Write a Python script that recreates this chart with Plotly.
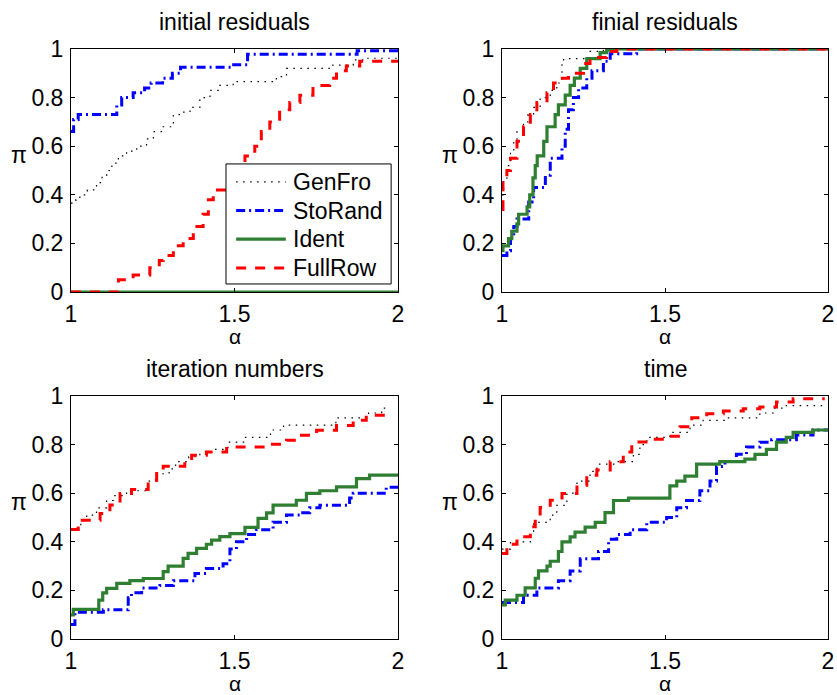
import plotly.graph_objects as go

# ---- data: performance profiles (alpha breakpoints, fraction of problems) ----
methods = ["GenFro", "StoRand", "Ident", "FullRow"]
panel_titles = ["initial residuals", "finial residuals", "iteration numbers", "time"]

# initial residuals
ir_genfro_a = [1.0, 1.015, 1.027, 1.05, 1.078, 1.095, 1.109, 1.125, 1.145, 1.17, 1.201, 1.231, 1.252, 1.282,
               1.313, 1.34, 1.364, 1.394, 1.425, 1.455, 1.496, 1.628, 1.659, 1.801, 1.863, 1.903, 2.0]
ir_genfro_p = [0.366, 0.38, 0.40, 0.42, 0.45, 0.48, 0.50, 0.53, 0.56, 0.58, 0.60, 0.63, 0.66, 0.68,
               0.73, 0.74, 0.76, 0.80, 0.83, 0.85, 0.866, 0.886, 0.92, 0.934, 0.955, 0.962, 0.962]
ir_storand_a = [1.0, 1.008, 1.022, 1.14, 1.155, 1.19, 1.225, 1.245, 1.28, 1.31, 1.335, 1.49, 1.54, 1.875, 2.0]
ir_storand_p = [0.66, 0.71, 0.73, 0.77, 0.80, 0.82, 0.84, 0.86, 0.88, 0.90, 0.925, 0.935, 0.978, 0.993, 0.993]
ir_ident_a = [1.0, 2.0]
ir_ident_p = [0.0, 0.0]
ir_fullrow_a = [1.0, 1.145, 1.19, 1.241, 1.27, 1.282, 1.313, 1.343, 1.374, 1.404, 1.42, 1.435, 1.486, 1.506,
                1.532, 1.562, 1.582, 1.608, 1.638, 1.669, 1.70, 1.74, 1.791, 1.812, 1.842, 1.883, 2.0]
ir_fullrow_p = [0.0, 0.05, 0.07, 0.10, 0.13, 0.15, 0.19, 0.22, 0.27, 0.32, 0.38, 0.42, 0.47, 0.52,
                0.56, 0.60, 0.66, 0.70, 0.75, 0.78, 0.81, 0.85, 0.88, 0.91, 0.93, 0.95, 0.95]

# final residuals
fr_genfro_a = [1.0, 1.005, 1.015, 1.026, 1.036, 1.046, 1.066, 1.08, 1.097, 1.117, 1.148, 1.168, 1.184,
               1.189, 1.270, 1.311, 2.0]
fr_genfro_p = [0.40, 0.46, 0.52, 0.58, 0.62, 0.66, 0.70, 0.73, 0.76, 0.80, 0.83, 0.86, 0.95,
               0.96, 0.99, 1.0, 1.0]
fr_storand_a = [1.0, 1.015, 1.026, 1.036, 1.046, 1.082, 1.097, 1.133, 1.148, 1.184, 1.194, 1.204, 1.219,
                1.235, 1.260, 1.276, 1.311, 1.332, 1.413, 2.0]
fr_storand_p = [0.15, 0.17, 0.22, 0.27, 0.30, 0.37, 0.43, 0.48, 0.55, 0.60, 0.67, 0.75, 0.80,
                0.84, 0.88, 0.91, 0.95, 0.98, 1.0, 1.0]
fr_ident_a = [1.0, 1.003, 1.020, 1.03, 1.046, 1.051, 1.077, 1.085, 1.095, 1.102, 1.108, 1.128, 1.138,
              1.163, 1.173, 1.194, 1.209, 1.222, 1.24, 1.260, 1.301, 1.321, 1.342, 2.0]
fr_ident_p = [0.17, 0.19, 0.22, 0.25, 0.28, 0.32, 0.35, 0.40, 0.47, 0.52, 0.56, 0.62, 0.68,
              0.73, 0.77, 0.81, 0.85, 0.88, 0.92, 0.96, 0.985, 0.995, 1.0, 1.0]
fr_fullrow_a = [1.0, 1.003, 1.015, 1.026, 1.046, 1.066, 1.087, 1.107, 1.138, 1.158, 1.173, 1.204, 1.25,
                1.270, 1.321, 1.352, 2.0]
fr_fullrow_p = [0.34, 0.45, 0.50, 0.55, 0.62, 0.68, 0.73, 0.78, 0.82, 0.86, 0.88, 0.90, 0.94,
                0.965, 0.99, 1.0, 1.0]

# iteration numbers
it_genfro_a = [1.0, 1.03, 1.048, 1.078, 1.109, 1.13, 1.17, 1.236, 1.262, 1.30, 1.32, 1.36, 1.394, 1.43,
               1.48, 1.53, 1.61, 1.65, 1.81, 1.91, 1.95, 1.975]
it_genfro_p = [0.451, 0.49, 0.51, 0.54, 0.57, 0.59, 0.61, 0.65, 0.68, 0.70, 0.73, 0.75, 0.76, 0.78,
               0.81, 0.83, 0.86, 0.88, 0.91, 0.93, 0.95, 0.95]
it_storand_a = [1.0, 1.012, 1.099, 1.175, 1.185, 1.216, 1.272, 1.313, 1.379, 1.414, 1.465, 1.486, 1.506,
                1.537, 1.567, 1.618, 1.659, 1.70, 1.73, 1.761, 1.852, 1.863, 1.964, 2.0]
it_storand_p = [0.06, 0.11, 0.12, 0.17, 0.19, 0.21, 0.22, 0.24, 0.27, 0.29, 0.31, 0.37, 0.40,
                0.43, 0.45, 0.48, 0.51, 0.52, 0.54, 0.55, 0.58, 0.60, 0.625, 0.625]
it_ident_a = [1.0, 1.007, 1.085, 1.097, 1.109, 1.14, 1.18, 1.221, 1.282, 1.297, 1.343, 1.358, 1.384, 1.414,
              1.43, 1.455, 1.486, 1.532, 1.572, 1.598, 1.618, 1.689, 1.72, 1.761, 1.812, 1.873, 1.913, 2.0]
it_ident_p = [0.099, 0.122, 0.16, 0.19, 0.208, 0.229, 0.24, 0.249, 0.277, 0.30, 0.332, 0.352, 0.373, 0.39,
              0.407, 0.421, 0.434, 0.459, 0.496, 0.519, 0.551, 0.571, 0.599, 0.61, 0.626, 0.66, 0.674, 0.674]
it_fullrow_a = [1.0, 1.022, 1.089, 1.119, 1.150, 1.185, 1.236, 1.262, 1.282, 1.348, 1.369, 1.414, 1.476,
                1.608, 1.659, 1.70, 1.751, 1.812, 1.863, 1.903, 1.975]
it_fullrow_p = [0.451, 0.489, 0.516, 0.551, 0.599, 0.615, 0.653, 0.688, 0.711, 0.736, 0.756, 0.770, 0.790,
                0.801, 0.818, 0.838, 0.859, 0.879, 0.90, 0.921, 0.921]

# time
tm_genfro_a = [1.0, 1.026, 1.087, 1.097, 1.148, 1.168, 1.199, 1.230, 1.270, 1.291, 1.352, 1.403, 1.423,
               1.444, 1.515, 1.577, 1.617, 1.689, 1.791, 1.832, 1.872, 1.985]
tm_genfro_p = [0.37, 0.40, 0.43, 0.48, 0.51, 0.55, 0.60, 0.65, 0.69, 0.72, 0.73, 0.76, 0.80,
               0.83, 0.85, 0.88, 0.90, 0.91, 0.93, 0.95, 0.96, 0.96]
tm_storand_a = [1.0, 1.066, 1.107, 1.173, 1.209, 1.240, 1.296, 1.327, 1.352, 1.393, 1.444, 1.505, 1.536,
                1.566, 1.607, 1.638, 1.658, 1.684, 1.719, 1.75, 1.791, 1.827, 1.903, 1.954, 2.0]
tm_storand_p = [0.15, 0.18, 0.21, 0.24, 0.28, 0.33, 0.36, 0.41, 0.43, 0.45, 0.48, 0.50, 0.54,
                0.57, 0.61, 0.65, 0.71, 0.73, 0.76, 0.79, 0.81, 0.82, 0.84, 0.86, 0.86]
tm_ident_a = [1.0, 1.010, 1.046, 1.071, 1.102, 1.112, 1.138, 1.148, 1.173, 1.184, 1.209, 1.224, 1.255,
              1.286, 1.316, 1.342, 1.388, 1.515, 1.536, 1.561, 1.597, 1.668, 1.745, 1.776, 1.811, 1.842,
              1.872, 1.893, 1.954, 2.0]
tm_ident_p = [0.14, 0.16, 0.18, 0.21, 0.25, 0.28, 0.30, 0.32, 0.36, 0.40, 0.42, 0.44, 0.46,
              0.48, 0.52, 0.57, 0.58, 0.63, 0.65, 0.67, 0.72, 0.73, 0.74, 0.76, 0.78, 0.81,
              0.83, 0.85, 0.86, 0.86]
tm_fullrow_a = [1.0, 1.015, 1.046, 1.087, 1.102, 1.117, 1.148, 1.184, 1.230, 1.260, 1.291, 1.332, 1.372,
                1.398, 1.464, 1.505, 1.546, 1.582, 1.628, 1.679, 1.740, 1.791, 1.842, 1.893, 1.99]
tm_fullrow_p = [0.352, 0.39, 0.421, 0.462, 0.503, 0.541, 0.571, 0.599, 0.633, 0.674, 0.695, 0.729, 0.77,
                0.811, 0.822, 0.834, 0.873, 0.91, 0.927, 0.938, 0.948, 0.955, 0.975, 0.989, 0.989]

panels = [
    [(ir_genfro_a, ir_genfro_p), (ir_storand_a, ir_storand_p), (ir_ident_a, ir_ident_p), (ir_fullrow_a, ir_fullrow_p)],
    [(fr_genfro_a, fr_genfro_p), (fr_storand_a, fr_storand_p), (fr_ident_a, fr_ident_p), (fr_fullrow_a, fr_fullrow_p)],
    [(it_genfro_a, it_genfro_p), (it_storand_a, it_storand_p), (it_ident_a, it_ident_p), (it_fullrow_a, it_fullrow_p)],
    [(tm_genfro_a, tm_genfro_p), (tm_storand_a, tm_storand_p), (tm_ident_a, tm_ident_p), (tm_fullrow_a, tm_fullrow_p)],
]

# ---- styles ----
FONT = "Liberation Sans, Arial, Helvetica, sans-serif"
FS = 23
FS_ALPHA = 21
line_styles = {
    "GenFro": dict(color="black", width=1.2, dash="1.5px,5.5px"),
    "StoRand": dict(color="#0000ff", width=3, dash="9px,4px,2px,4px"),
    "Ident": dict(color="#2f7f32", width=3.2, dash="solid"),
    "FullRow": dict(color="#ff0000", width=3, dash="10px,9px"),
}

W, H = 837, 695
col_px = [(71, 398), (502, 828)]
row_px = [(49, 292), (396, 639)]


def px_x(p):
    return p / W


def px_y(p):
    return 1 - p / H


fig = go.Figure()
layout = dict(
    width=W, height=H, margin=dict(l=0, r=0, t=0, b=0, autoexpand=False),
    paper_bgcolor="white", plot_bgcolor="white",
    font=dict(family=FONT, size=FS, color="black"),
    showlegend=False,
)

annotations = []
shapes = []
for i in range(4):
    r, c = divmod(i, 2)
    sfx = "" if i == 0 else str(i + 1)
    xa, ya = "x" + sfx, "y" + sfx
    x0, x1 = col_px[c]
    y0, y1 = row_px[r]
    common = dict(showline=True, linecolor="black", linewidth=1, mirror="ticks",
                  ticks="inside", ticklen=4, tickcolor="black", showgrid=False, zeroline=False,
                  tickfont=dict(family=FONT, size=FS, color="black"))
    layout["xaxis" + sfx] = dict(common, domain=[px_x(x0), px_x(x1)], range=[1, 2],
                                 tick0=1, dtick=0.5, anchor=ya, ticklabelstandoff=1)
    layout["yaxis" + sfx] = dict(common, domain=[px_y(y1), px_y(y0)], range=[0, 1],
                                 tick0=0, dtick=0.2, anchor=xa, ticklabelstandoff=2)
    for name, (a, p) in zip(methods, panels[i]):
        fig.add_trace(go.Scatter(x=a, y=p, mode="lines", name=name, line_shape="hv",
                                 line=line_styles[name], xaxis=xa, yaxis=ya))
    cx = (x0 + x1) / 2
    annotations.append(dict(text=panel_titles[i], x=px_x(cx), y=px_y(y0 - 27), xref="paper", yref="paper",
                            xanchor="center", yanchor="middle", showarrow=False,
                            font=dict(family=FONT, size=FS)))
    annotations.append(dict(text="\u03c0", x=px_x(x0 - 52), y=px_y(y0 + 106), xref="paper", yref="paper",
                            xanchor="center", yanchor="middle", showarrow=False,
                            font=dict(family=FONT, size=FS)))
    annotations.append(dict(text="\u03b1", x=px_x(cx), y=px_y(y1 + 44), xref="paper", yref="paper",
                            xanchor="center", yanchor="middle", showarrow=False, borderpad=0,
                            font=dict(family=FONT, size=FS_ALPHA)))

# legend box inside the first panel
leg_x0, leg_x1, leg_y0, leg_y1 = 0.474, 0.979, 0.033, 0.527
shapes.append(dict(type="rect", xref="x domain", yref="y domain", x0=leg_x0, x1=leg_x1, y0=leg_y0, y1=leg_y1,
                   line=dict(color="black", width=1), fillcolor="white", layer="above"))
leg_rows = [0.453, 0.335, 0.218, 0.099]
for name, ly in zip(methods, leg_rows):
    shapes.append(dict(type="line", xref="x domain", yref="y domain", x0=0.505, x1=0.657, y0=ly, y1=ly,
                       line=line_styles[name], layer="above"))
    annotations.append(dict(text=name, x=0.672, y=ly, xref="x domain", yref="y domain",
                            xanchor="left", yanchor="middle", showarrow=False,
                            font=dict(family=FONT, size=FS)))

layout["annotations"] = annotations
layout["shapes"] = shapes
fig.update_layout(**layout)
fig.write_html("out.html")
